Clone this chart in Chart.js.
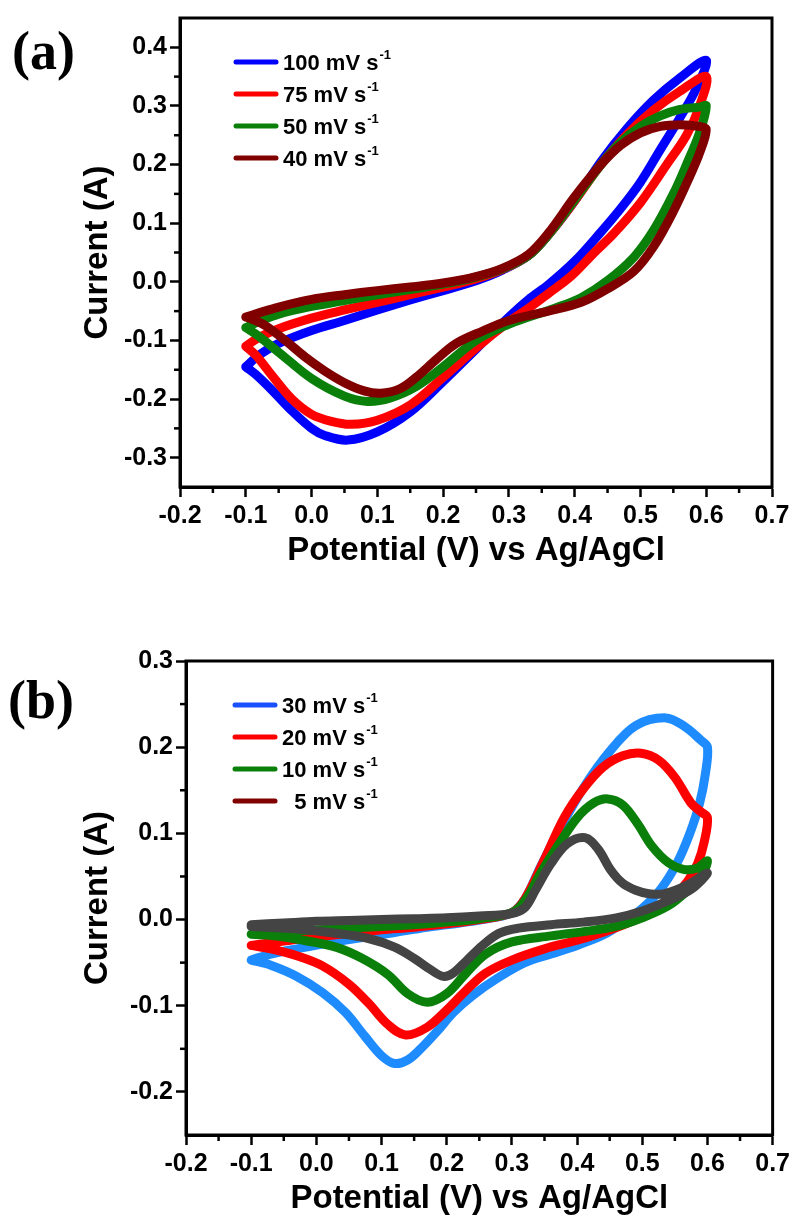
<!DOCTYPE html>
<html>
<head>
<meta charset="utf-8">
<title>Cyclic voltammetry</title>
<script src="https://cdn.jsdelivr.net/npm/chart.js@4.4.0/dist/chart.umd.min.js"></script>
<style>
  body { margin: 0; background: #fff; }
  canvas { position: absolute; left: 0; }
</style>
</head>
<body>
<canvas id="chartA" width="794" height="611" style="top:0"></canvas>
<canvas id="chartB" width="794" height="611" style="top:611px"></canvas>
<script>
// Panel (a): CV loops, [potential V, current A], forward scan then reverse scan
const cvA100 = [[-0.1,-0.145],[-0.08,-0.125],[-0.05,-0.105],[0,-0.083],[0.05,-0.066],[0.1,-0.048],[0.15,-0.031],[0.2,-0.015],[0.25,0.002],[0.29,0.02],[0.33,0.045],[0.36,0.08],[0.4,0.138],[0.44,0.205],[0.48,0.262],[0.52,0.31],[0.56,0.348],[0.6,0.378],
  [0.585,0.33],[0.56,0.28],[0.53,0.225],[0.5,0.17],[0.47,0.125],[0.44,0.085],[0.4,0.035],[0.36,-0.005],[0.33,-0.03],[0.3,-0.06],[0.25,-0.115],[0.2,-0.17],[0.15,-0.222],[0.1,-0.256],[0.055,-0.27],[0.02,-0.262],[0,-0.25],[-0.03,-0.22],[-0.06,-0.185],[-0.085,-0.158],[-0.1,-0.145]];
const cvA75 = [[-0.1,-0.11],[-0.08,-0.095],[-0.05,-0.08],[0,-0.062],[0.05,-0.048],[0.1,-0.035],[0.15,-0.022],[0.2,-0.009],[0.25,0.005],[0.29,0.021],[0.33,0.045],[0.36,0.08],[0.4,0.138],[0.44,0.2],[0.48,0.252],[0.52,0.293],[0.56,0.325],[0.6,0.35],
  [0.59,0.3],[0.57,0.25],[0.54,0.2],[0.5,0.135],[0.46,0.083],[0.43,0.05],[0.395,0.01],[0.36,-0.02],[0.33,-0.045],[0.3,-0.068],[0.25,-0.113],[0.2,-0.163],[0.15,-0.21],[0.1,-0.236],[0.06,-0.243],[0.03,-0.238],[0,-0.226],[-0.03,-0.2],[-0.06,-0.16],[-0.085,-0.125],[-0.1,-0.11]];
const cvA50 = [[-0.1,-0.078],[-0.08,-0.068],[-0.05,-0.055],[0,-0.042],[0.05,-0.032],[0.1,-0.022],[0.15,-0.013],[0.2,-0.004],[0.25,0.008],[0.29,0.022],[0.33,0.045],[0.36,0.08],[0.4,0.14],[0.44,0.2],[0.47,0.238],[0.5,0.265],[0.53,0.283],[0.56,0.294],[0.59,0.298],[0.6,0.3],
  [0.59,0.255],[0.57,0.2],[0.55,0.15],[0.52,0.088],[0.49,0.042],[0.45,0.002],[0.41,-0.027],[0.37,-0.045],[0.33,-0.06],[0.3,-0.072],[0.25,-0.1],[0.2,-0.145],[0.16,-0.178],[0.12,-0.198],[0.085,-0.204],[0.05,-0.195],[0,-0.165],[-0.05,-0.12],[-0.08,-0.093],[-0.1,-0.078]];
const cvA40 = [[-0.1,-0.06],[-0.08,-0.053],[-0.05,-0.043],[0,-0.03],[0.05,-0.022],[0.1,-0.015],[0.15,-0.009],[0.2,-0.002],[0.25,0.009],[0.29,0.023],[0.33,0.047],[0.36,0.083],[0.4,0.145],[0.44,0.2],[0.47,0.233],[0.5,0.254],[0.53,0.265],[0.56,0.268],[0.59,0.265],[0.6,0.26],
  [0.59,0.22],[0.575,0.18],[0.55,0.12],[0.52,0.06],[0.49,0.018],[0.45,-0.012],[0.41,-0.035],[0.36,-0.05],[0.3,-0.066],[0.26,-0.084],[0.22,-0.105],[0.19,-0.132],[0.16,-0.162],[0.135,-0.182],[0.105,-0.19],[0.08,-0.186],[0.05,-0.172],[0.02,-0.152],[-0.01,-0.128],[-0.04,-0.1],[-0.07,-0.075],[-0.09,-0.064],[-0.1,-0.06]];

// Panel (b)
const cvB30 = [[-0.1,-0.047],[-0.07,-0.04],[-0.03,-0.034],[0.02,-0.027],[0.07,-0.021],[0.12,-0.015],[0.17,-0.009],[0.22,-0.004],[0.27,0.002],[0.3,0.008],[0.32,0.024],[0.34,0.055],[0.37,0.1],[0.41,0.153],[0.45,0.195],[0.49,0.225],[0.536,0.234],[0.565,0.224],[0.59,0.208],[0.6,0.2],
  [0.597,0.17],[0.588,0.135],[0.573,0.1],[0.553,0.065],[0.528,0.035],[0.5,0.013],[0.47,-0.004],[0.44,-0.018],[0.4,-0.03],[0.36,-0.04],[0.32,-0.05],[0.28,-0.067],[0.24,-0.088],[0.21,-0.108],[0.185,-0.13],[0.16,-0.15],[0.14,-0.163],[0.12,-0.167],[0.1,-0.158],[0.075,-0.136],[0.045,-0.108],[0.01,-0.085],[-0.03,-0.066],[-0.07,-0.053],[-0.1,-0.047]];
const cvB20 = [[-0.1,-0.03],[-0.05,-0.025],[0,-0.02],[0.05,-0.016],[0.1,-0.012],[0.15,-0.009],[0.2,-0.005],[0.25,0],[0.3,0.008],[0.32,0.024],[0.35,0.07],[0.38,0.118],[0.41,0.152],[0.44,0.177],[0.47,0.19],[0.498,0.193],[0.525,0.185],[0.55,0.165],[0.575,0.135],[0.59,0.125],[0.6,0.118],
  [0.595,0.09],[0.585,0.065],[0.57,0.045],[0.55,0.028],[0.52,0.012],[0.49,0],[0.45,-0.012],[0.4,-0.024],[0.35,-0.034],[0.3,-0.047],[0.26,-0.062],[0.23,-0.082],[0.2,-0.105],[0.17,-0.125],[0.137,-0.134],[0.11,-0.122],[0.08,-0.097],[0.05,-0.075],[0.01,-0.054],[-0.03,-0.042],[-0.07,-0.034],[-0.1,-0.03]];
const cvB10 = [[-0.1,-0.017],[-0.05,-0.014],[0,-0.012],[0.05,-0.01],[0.1,-0.008],[0.15,-0.006],[0.2,-0.003],[0.25,0.001],[0.3,0.008],[0.32,0.022],[0.345,0.055],[0.37,0.085],[0.4,0.118],[0.425,0.135],[0.447,0.14],[0.47,0.133],[0.493,0.111],[0.515,0.085],[0.54,0.066],[0.565,0.058],[0.585,0.06],[0.6,0.068],
  [0.59,0.05],[0.57,0.034],[0.54,0.016],[0.5,0.002],[0.46,-0.008],[0.41,-0.014],[0.36,-0.019],[0.3,-0.026],[0.26,-0.04],[0.23,-0.062],[0.2,-0.086],[0.17,-0.096],[0.14,-0.086],[0.11,-0.064],[0.07,-0.045],[0.03,-0.032],[-0.02,-0.024],[-0.06,-0.019],[-0.1,-0.017]];
const cvB5 = [[-0.1,-0.006],[-0.05,-0.004],[0,-0.002],[0.05,-0.001],[0.1,0],[0.15,0.001],[0.2,0.002],[0.25,0.004],[0.3,0.007],[0.32,0.014],[0.336,0.034],[0.36,0.065],[0.385,0.088],[0.412,0.095],[0.432,0.082],[0.452,0.057],[0.47,0.042],[0.49,0.034],[0.51,0.03],[0.534,0.03],[0.569,0.04],[0.6,0.054],
  [0.575,0.035],[0.54,0.022],[0.5,0.01],[0.46,0.002],[0.41,-0.003],[0.36,-0.006],[0.31,-0.01],[0.28,-0.016],[0.255,-0.03],[0.23,-0.048],[0.21,-0.062],[0.195,-0.066],[0.175,-0.058],[0.15,-0.045],[0.12,-0.032],[0.08,-0.022],[0.03,-0.016],[-0.03,-0.011],[-0.1,-0.008]];

const labelsA = ['100 mV s', '75 mV s', '50 mV s', '40 mV s'];
const labelsB = ['30 mV s', '20 mV s', '10 mV s', '  5 mV s'];
const colorsA = ['#0000ff', '#ff0000', '#0a800a', '#800000'];
const colorsB = ['#1e8cff', '#ff0000', '#0a800a', '#444444'];
const legendColorsB = ['#1a50ff', '#ff0000', '#0a800a', '#800000'];

const xTicks = { min: -0.2, max: 0.7, step: 0.05 };
const yTicksA = { min: -0.35, max: 0.45, step: 0.05 };
const yTicksB = { min: -0.25, max: 0.3, step: 0.05 };

const FONT = "'Liberation Sans', Arial, sans-serif";
Chart.defaults.font.family = FONT;
Chart.defaults.color = '#000';

// major ticks every 0.1, minor every 0.05
function isMajor(v) {
    return Math.abs(Math.round(v * 20)) % 2 === 0;
}
function fmt(v) {
    return (Math.round(v * 10) / 10 + 0).toFixed(1);
}

// frame, minor ticks, legend with superscripts and panel letter
const panelDecor = {
    id: 'panelDecor',
    afterDraw(chart, args, opts) {
        const ctx = chart.ctx;
        const a = chart.chartArea;
        const xs = chart.scales.x, ys = chart.scales.y;
        ctx.save();
        ctx.strokeStyle = '#000';
        ctx.lineWidth = 3;
        ctx.strokeRect(a.left, a.top, a.right - a.left, a.bottom - a.top);

        ctx.lineWidth = 2.5;
        xs.ticks.forEach(t => {
            if (isMajor(t.value)) return;
            const px = xs.getPixelForValue(t.value);
            ctx.beginPath();
            ctx.moveTo(px, a.bottom);
            ctx.lineTo(px, a.bottom + 6);
            ctx.stroke();
        });
        ys.ticks.forEach(t => {
            if (isMajor(t.value)) return;
            const py = ys.getPixelForValue(t.value);
            if (py < a.top + 3 || py > a.bottom - 3) return;
            ctx.beginPath();
            ctx.moveTo(a.left, py);
            ctx.lineTo(a.left - 6, py);
            ctx.stroke();
        });

        // legend
        ctx.textAlign = 'left';
        ctx.textBaseline = 'alphabetic';
        chart.data.datasets.forEach((ds, i) => {
            const y = a.top + opts.legendTop + i * opts.legendGap;
            ctx.strokeStyle = opts.legendColors[i];
            ctx.lineWidth = 5;
            ctx.lineCap = 'round';
            ctx.beginPath();
            ctx.moveTo(a.left + opts.legendX, y);
            ctx.lineTo(a.left + opts.legendX + 40, y);
            ctx.stroke();
            ctx.fillStyle = '#000';
            ctx.font = 'bold 22px ' + FONT;
            const tx = a.left + opts.legendX + 47;
            ctx.fillText(opts.legendText[i], tx, y + 8);
            const w = ctx.measureText(opts.legendText[i]).width;
            ctx.font = 'bold 13px ' + FONT;
            ctx.fillText('-1', tx + w + 1, y - 3);
        });

        ctx.font = 'bold 54px "Liberation Serif", "Times New Roman", serif';
        ctx.textBaseline = 'middle';
        ctx.fillText(opts.letter, opts.letterX, opts.letterY);
        ctx.restore();
    }
};

function makeDatasets(loops, labels, colors) {
    return loops.map((loop, i) => ({
        label: labels[i].trim() + '\u207B\u00B9',
        data: loop.map(p => ({ x: p[0], y: p[1] })),
        showLine: true,
        borderColor: colors[i],
        backgroundColor: colors[i],
        borderWidth: 9,
        pointRadius: 0,
        tension: 0.35,
        borderCapStyle: 'round',
        borderJoinStyle: 'round',
        order: loops.length - i
    }));
}

function axisOptions(range, size, title, titlePad, isX) {
    return {
        type: 'linear',
        min: range.min,
        max: range.max,
        afterFit: s => { if (isX) s.height = size; else s.width = size; },
        border: { display: true, color: '#000', width: 3 },
        grid: {
            drawOnChartArea: false,
            drawTicks: true,
            tickLength: 10,
            tickWidth: 2.5,
            tickColor: c => isMajor(c.tick.value) ? '#000' : 'rgba(0,0,0,0)'
        },
        ticks: {
            stepSize: range.step,
            autoSkip: false,
            maxRotation: 0,
            padding: isX ? 4 : 3,
            font: { size: 25, weight: 'bold' },
            callback: v => isMajor(v) ? fmt(v) : ''
        },
        title: {
            display: true,
            text: title,
            font: { size: 33, weight: 'bold' },
            padding: titlePad
        }
    };
}

function makeChart(id, loops, labels, colors, legendColors, yRange, layout) {
    new Chart(document.getElementById(id), {
        type: 'scatter',
        data: { datasets: makeDatasets(loops, labels, colors) },
        options: {
            responsive: false,
            animation: false,
            layout: { padding: { left: 0, right: layout.right, top: layout.top, bottom: 0 } },
            plugins: {
                legend: { display: false },
                tooltip: { enabled: false },
                panelDecor: {
                    legendText: labels,
                    legendColors: legendColors,
                    legendX: layout.legendX,
                    legendTop: 44,
                    legendGap: 32,
                    letter: layout.letter,
                    letterX: layout.letterX,
                    letterY: layout.letterY
                }
            },
            scales: {
                x: axisOptions(xTicks, layout.xHeight, 'Potential (V) vs Ag/AgCl', { top: 0, bottom: layout.xTitlePad }, true),
                y: axisOptions(yRange, layout.yWidth, 'Current (A)', { top: 78, bottom: 0 }, false)
            }
        },
        plugins: [panelDecor]
    });
}

makeChart('chartA', [cvA100, cvA75, cvA50, cvA40], labelsA, colorsA, colorsA, yTicksA,
    { right: 22, top: 12, xHeight: 124, yWidth: 180, xTitlePad: 40, legendX: 56, letter: '(a)', letterX: 12, letterY: 55 });
makeChart('chartB', [cvB30, cvB20, cvB10, cvB5], labelsB, colorsB, legendColorsB, yTicksB,
    { right: 19, top: 50, xHeight: 87, yWidth: 186, xTitlePad: 3, legendX: 49, letter: '(b)', letterX: 8, letterY: 93 });
</script>
</body>
</html>
